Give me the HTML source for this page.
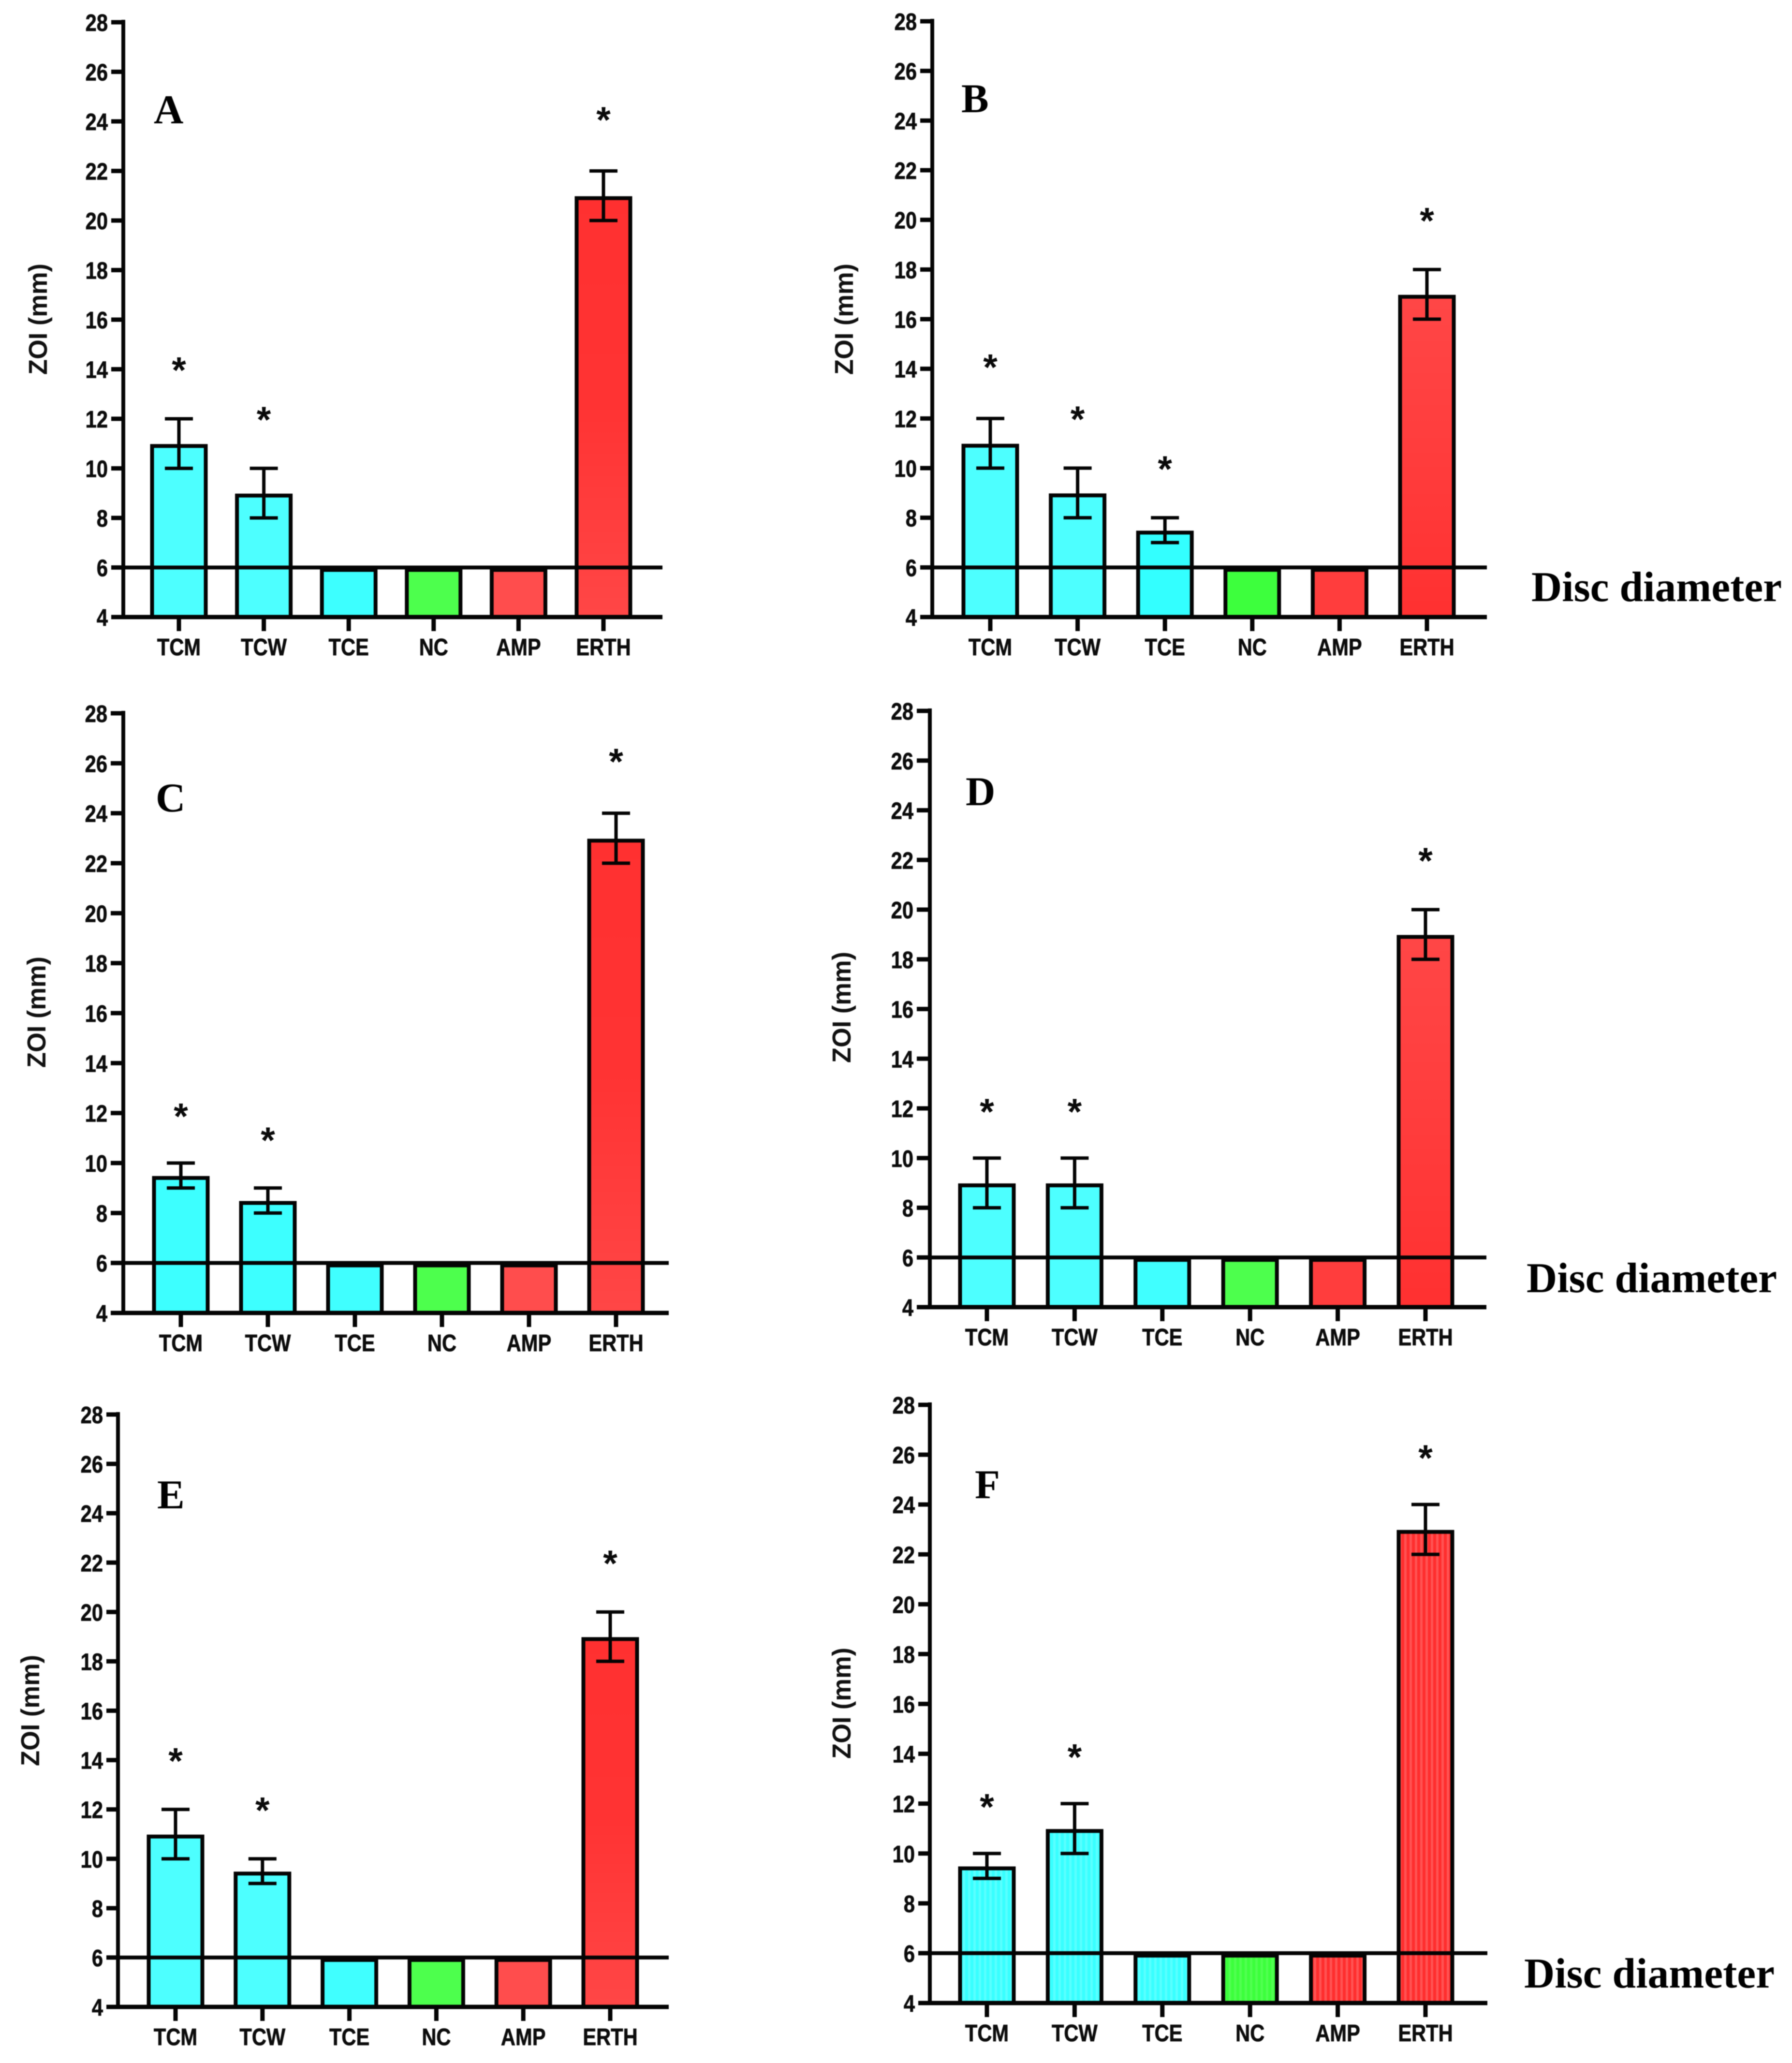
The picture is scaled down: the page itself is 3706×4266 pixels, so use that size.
<!DOCTYPE html>
<html lang="en">
<head>
<meta charset="utf-8">
<title>ZOI bar charts, panels A to F</title>
<style>
html,body{margin:0;padding:0;background:#fff;}
svg{display:block;filter:blur(0.9px);}
.letter,.disc{font-family:"Liberation Serif",serif;font-weight:bold;fill:#000;}
.ytitle{font-family:"Liberation Sans",sans-serif;font-weight:bold;fill:#111;font-size:54px;}
</style>
</head>
<body>
<svg id="figure" xmlns="http://www.w3.org/2000/svg" width="3706" height="4266" viewBox="0 0 3706 4266">
  <defs>
    <linearGradient id="redDown" x1="0" y1="0" x2="0" y2="1"><stop offset="0" stop-color="#ff3030"/><stop offset="0.5" stop-color="#ff3333"/><stop offset="1" stop-color="#ff4646"/></linearGradient>
    <linearGradient id="redUp" x1="0" y1="0" x2="0" y2="1"><stop offset="0" stop-color="#ff4646"/><stop offset="0.5" stop-color="#ff3c3c"/><stop offset="1" stop-color="#ff3030"/></linearGradient>
    <pattern id="stripeCyan" width="11" height="11" patternUnits="userSpaceOnUse"><rect width="11" height="11" fill="#38ffff"/><rect width="5" height="11" fill="#58ffff"/></pattern>
    <pattern id="stripeGreen" width="11" height="11" patternUnits="userSpaceOnUse"><rect width="11" height="11" fill="#3cff3c"/><rect width="5" height="11" fill="#50ff50"/></pattern>
    <pattern id="stripeRed" width="11" height="11" patternUnits="userSpaceOnUse"><rect width="11" height="11" fill="#ff2e2e"/><rect width="5" height="11" fill="#ff5252"/></pattern>
  </defs>

  <g id="panel-a"></g>
  <g id="panel-b"></g>
  <g id="panel-c"></g>
  <g id="panel-d"></g>
  <g id="panel-e"></g>
  <g id="panel-f"></g>

  <text class="letter" x="318" y="255" font-size="85">A</text>
  <text class="letter" x="1988" y="232" font-size="85">B</text>
  <text class="letter" x="322" y="1678" font-size="85">C</text>
  <text class="letter" x="1997" y="1665" font-size="85">D</text>
  <text class="letter" x="325" y="3119" font-size="85">E</text>
  <text class="letter" x="2016" y="3098" font-size="85">F</text>

  <text class="ytitle" transform="translate(97,660) rotate(-90)" text-anchor="middle" textLength="230" lengthAdjust="spacingAndGlyphs">ZOI (mm)</text>
  <text class="ytitle" transform="translate(1764,660) rotate(-90)" text-anchor="middle" textLength="230" lengthAdjust="spacingAndGlyphs">ZOI (mm)</text>
  <text class="ytitle" transform="translate(94,2093) rotate(-90)" text-anchor="middle" textLength="230" lengthAdjust="spacingAndGlyphs">ZOI (mm)</text>
  <text class="ytitle" transform="translate(1759,2083) rotate(-90)" text-anchor="middle" textLength="230" lengthAdjust="spacingAndGlyphs">ZOI (mm)</text>
  <text class="ytitle" transform="translate(81,3537) rotate(-90)" text-anchor="middle" textLength="230" lengthAdjust="spacingAndGlyphs">ZOI (mm)</text>
  <text class="ytitle" transform="translate(1759,3522) rotate(-90)" text-anchor="middle" textLength="230" lengthAdjust="spacingAndGlyphs">ZOI (mm)</text>

  <text class="disc" x="3167" y="1243" font-size="88" textLength="518" lengthAdjust="spacingAndGlyphs">Disc diameter</text>
  <text class="disc" x="3157" y="2672" font-size="88" textLength="518" lengthAdjust="spacingAndGlyphs">Disc diameter</text>
  <text class="disc" x="3152" y="4110" font-size="88" textLength="518" lengthAdjust="spacingAndGlyphs">Disc diameter</text>
</svg>

<script>
// ---- chart data ----
const categories = ['TCM', 'TCW', 'TCE', 'NC', 'AMP', 'ERTH'];
const yTickLabels = [4, 6, 8, 10, 12, 14, 16, 18, 20, 22, 24, 26, 28];
const discDiameter = 6;

const valuesA = [11, 9, 6, 6, 6, 21];
const errorsA = [1, 1, 0, 0, 0, 1];
const starsA = [14.1, 12.1, null, null, null, 24.2];

const valuesB = [11, 9, 7.5, 6, 6, 17];
const errorsB = [1, 1, 0.5, 0, 0, 1];
const starsB = [14.2, 12.1, 10.1, null, null, 20.1];

const valuesC = [9.5, 8.5, 6, 6, 6, 23];
const errorsC = [0.5, 0.5, 0, 0, 0, 1];
const starsC = [12, 11.05, null, null, null, 26.2];

const valuesD = [9, 9, 6, 6, 6, 19];
const errorsD = [1, 1, 0, 0, 0, 1];
const starsD = [12, 12, null, null, null, 22.1];

const valuesE = [11, 9.5, 6, 6, 6, 19];
const errorsE = [1, 0.5, 0, 0, 0, 1];
const starsE = [14.1, 12.1, null, null, null, 22.1];

const valuesF = [9.5, 11, 6, 6, 6, 23];
const errorsF = [0.5, 1, 0, 0, 0, 1];
const starsF = [12, 14, null, null, null, 26];

// ---- panel styling and frames ----
const fillsA = ['#4dffff', '#4dffff', '#3dffff', '#4dff4d', '#ff4d4d', 'url(#redDown)'];
const fillsB = ['#4dffff', '#4dffff', '#33ffff', '#3dff3d', '#ff3d3d', 'url(#redUp)'];
const fillsC = ['#3dffff', '#3dffff', '#40ffff', '#4dff4d', '#ff4d4d', 'url(#redDown)'];
const fillsD = ['#4dffff', '#4dffff', '#40ffff', '#4dff4d', '#ff3d3d', 'url(#redUp)'];
const fillsE = ['#4dffff', '#4dffff', '#40ffff', '#4dff4d', '#ff4d4d', 'url(#redDown)'];
const fillsF = ['url(#stripeCyan)', 'url(#stripeCyan)', 'url(#stripeCyan)', 'url(#stripeGreen)', 'url(#stripeRed)', 'url(#stripeRed)'];

const panels = [
  {id: 'panel-a', values: valuesA, errors: errorsA, stars: starsA, fills: fillsA, axisX: 255, tickX: 230, firstX: 370, lastX: 1248, endX: 1370, top: 46, bottom: 1276},
  {id: 'panel-b', values: valuesB, errors: errorsB, stars: starsB, fills: fillsB, axisX: 1928, tickX: 1903, firstX: 2048, lastX: 2951, endX: 3075, top: 44, bottom: 1276},
  {id: 'panel-c', values: valuesC, errors: errorsC, stars: starsC, fills: fillsC, axisX: 255, tickX: 229, firstX: 374, lastX: 1274, endX: 1383, top: 1475, bottom: 2715},
  {id: 'panel-d', values: valuesD, errors: errorsD, stars: starsD, fills: fillsD, axisX: 1923, tickX: 1896, firstX: 2041, lastX: 2948, endX: 3074, top: 1470, bottom: 2703},
  {id: 'panel-e', values: valuesE, errors: errorsE, stars: starsE, fills: fillsE, axisX: 244, tickX: 220, firstX: 363, lastX: 1262, endX: 1383, top: 2925, bottom: 4150},
  {id: 'panel-f', values: valuesF, errors: errorsF, stars: starsF, fills: fillsF, axisX: 1923, tickX: 1899, firstX: 2041, lastX: 2948, endX: 3076, top: 2905, bottom: 4142}
];

const SVG_NS = 'http://www.w3.org/2000/svg';
const INK = '#040404';

function line(parent, x1, y1, x2, y2, width) {
  const el = document.createElementNS(SVG_NS, 'line');
  el.setAttribute('x1', x1);
  el.setAttribute('y1', y1);
  el.setAttribute('x2', x2);
  el.setAttribute('y2', y2);
  el.setAttribute('stroke', INK);
  el.setAttribute('stroke-width', width);
  parent.appendChild(el);
  return el;
}

function label(parent, x, y, text, anchor) {
  const el = document.createElementNS(SVG_NS, 'text');
  el.setAttribute('transform', 'translate(' + x + ',' + y + ') scale(0.85,1)');
  el.setAttribute('text-anchor', anchor);
  el.setAttribute('font-family', '"Liberation Sans", sans-serif');
  el.setAttribute('font-weight', 'bold');
  el.setAttribute('font-size', '49');
  el.setAttribute('fill', '#0c0c0c');
  el.setAttribute('stroke', '#0c0c0c');
  el.setAttribute('stroke-width', '0.8');
  el.textContent = text;
  parent.appendChild(el);
  return el;
}

function drawPanel(p) {
  const g = document.getElementById(p.id);
  const yScale = function (v) {
    return p.bottom - (v - yTickLabels[0]) * (p.bottom - p.top) / (yTickLabels[yTickLabels.length - 1] - yTickLabels[0]);
  };
  const xScale = function (i) {
    return p.firstX + i * (p.lastX - p.firstX) / (categories.length - 1);
  };
  const barOuter = 119;
  const barStroke = 8;
  const barWidth = barOuter - barStroke;

  categories.forEach(function (cat, i) {
    const top = yScale(p.values[i]) + 5;
    const bar = document.createElementNS(SVG_NS, 'rect');
    bar.setAttribute('x', xScale(i) - barWidth / 2);
    bar.setAttribute('y', top);
    bar.setAttribute('width', barWidth);
    bar.setAttribute('height', p.bottom - top);
    bar.setAttribute('fill', p.fills[i]);
    bar.setAttribute('stroke', INK);
    bar.setAttribute('stroke-width', barStroke);
    
    
    g.appendChild(bar);
  });

  const yAxis = line(g, p.axisX, p.top - 5, p.axisX, p.bottom + 4, 8);
  
  

  const xAxis = line(g, p.tickX, p.bottom, p.endX, p.bottom, 9);
  
  

  const refLine = line(g, p.tickX, yScale(discDiameter), p.endX, yScale(discDiameter), 8);
  
  

  yTickLabels.forEach(function (t) {
    const y = yScale(t);
    const tick = line(g, p.tickX, y, p.axisX, y, 9);
    
    
    const tickText = label(g, p.tickX - 7, y + 18, String(t), 'end');
    
    
  });

  categories.forEach(function (cat, i) {
    const x = xScale(i);
    const tick = line(g, x, p.bottom, x, p.bottom + 29, 9);
    
    
    const catText = label(g, x, p.bottom + 79, cat, 'middle');
    
    

    const err = p.errors[i];
    if (err > 0) {
      const hi = yScale(p.values[i] + err);
      const lo = yScale(p.values[i] - err);
      const stem = line(g, x, hi, x, lo, 7);
      
      
      const capHi = line(g, x - 29, hi, x + 29, hi, 7);
      
      
      const capLo = line(g, x - 29, lo, x + 29, lo, 7);
      
      
    }

    if (p.stars[i] !== null) {
      const star = document.createElementNS(SVG_NS, 'text');
      star.setAttribute('x', x);
      star.setAttribute('y', yScale(p.stars[i]) + 33);
      star.setAttribute('text-anchor', 'middle');
      star.setAttribute('font-family', '"Liberation Sans", sans-serif');
      star.setAttribute('font-weight', 'bold');
      star.setAttribute('font-size', '76');
      star.setAttribute('fill', '#0a0a0a');
      star.textContent = '*';
      
      
      g.appendChild(star);
    }
  });
}

panels.forEach(drawPanel);
</script>
</body>
</html>
